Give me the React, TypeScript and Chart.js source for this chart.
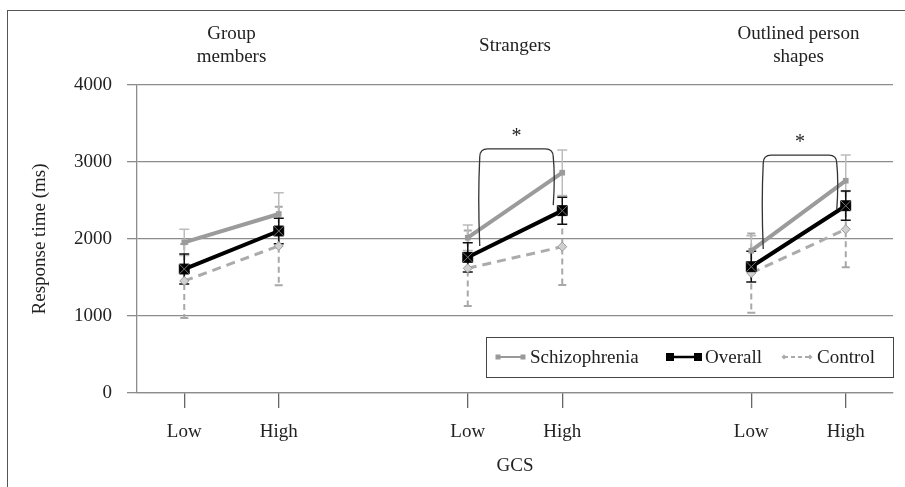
import React, { useEffect, useRef } from 'react';
import { Chart, registerables } from 'chart.js';

Chart.register(...registerables);

const categories = ['Low', 'High', '', 'Low', 'High', '', 'Low', 'High'];
const groupTitles = [['Group', 'members'], ['Strangers'], ['Outlined person', 'shapes']];
const groupStart = [0, 3, 6];

const schizophrenia = [1957, 2325, null, 2017, 2861, null, 1848, 2757];
const schizophreniaErr = [170, 275, null, 165, 295, null, 195, 335];
const overall = [1610, 2104, null, 1762, 2368, null, 1640, 2432];
const overallErr = [195, 165, null, 190, 175, null, 200, 190];
const control = [1455, 1910, null, 1619, 1900, null, 1558, 2126];
const controlErr = [480, 510, null, 490, 497, null, 515, 494];

const yMin = 0;
const yMax = 4000;
const yStep = 1000;

// significance brackets: start category index (Low), end index (High)
const bracketFrom = [3, 6];
const bracketTo = [4, 7];
const bracketTop = [3170, 3090];
const bracketLeftEnd = [1910, 1870];
const bracketRightEnd = [2440, 2380];
const bracketMark = ['*', '*'];

const FONT = "'Liberation Serif', 'Times New Roman', serif";
const FS = 19;
const TEXT = '#222';
const GRID = '#8c8c8c';

const annotations = {
  id: 'annotations',
  beforeDatasetsDraw(chart: any) {
    const { ctx } = chart;
    const xs = chart.scales.x;
    const ys = chart.scales.y;
    const series = [
      { v: control, e: controlErr, color: '#a8a8a8', width: 2, dash: [6, 4], cap: 4 },
      { v: schizophrenia, e: schizophreniaErr, color: '#bcbcbc', width: 1.5, dash: [], cap: 5 },
      { v: overall, e: overallErr, color: '#111', width: 1.5, dash: [], cap: 5 },
    ];
    ctx.save();
    for (const s of series) {
      ctx.strokeStyle = s.color;
      ctx.lineWidth = s.width;
      for (let i = 0; i < s.v.length; i++) {
        const v = s.v[i];
        const e = s.e[i];
        if (v == null || e == null) continue;
        const x = xs.getPixelForValue(i);
        const yt = ys.getPixelForValue(v + e);
        const yb = ys.getPixelForValue(v - e);
        ctx.setLineDash(s.dash);
        ctx.beginPath();
        ctx.moveTo(x, yt);
        ctx.lineTo(x, yb);
        ctx.stroke();
        ctx.setLineDash([]);
        ctx.beginPath();
        ctx.moveTo(x - s.cap, yt);
        ctx.lineTo(x + s.cap, yt);
        ctx.moveTo(x - s.cap, yb);
        ctx.lineTo(x + s.cap, yb);
        ctx.stroke();
      }
    }
    ctx.restore();
  },
  afterDatasetsDraw(chart: any) {
    const { ctx } = chart;
    const meta = chart.getDatasetMeta(1);
    ctx.save();
    ctx.strokeStyle = '#777';
    ctx.lineWidth = 1;
    meta.data.forEach((pt: any, i: number) => {
      if (overall[i] == null) return;
      const r = 5;
      ctx.beginPath();
      ctx.moveTo(pt.x - r, pt.y - r);
      ctx.lineTo(pt.x + r, pt.y + r);
      ctx.moveTo(pt.x + r, pt.y - r);
      ctx.lineTo(pt.x - r, pt.y + r);
      ctx.stroke();
    });
    ctx.restore();
  },
  afterDraw(chart: any) {
    const { ctx, chartArea } = chart;
    const xs = chart.scales.x;
    const ys = chart.scales.y;
    ctx.save();
    // group titles
    ctx.fillStyle = TEXT;
    ctx.font = `${FS}px ${FONT}`;
    ctx.textAlign = 'center';
    ctx.textBaseline = 'middle';
    groupTitles.forEach((lines, g) => {
      const cx = (xs.getPixelForValue(groupStart[g]) + xs.getPixelForValue(groupStart[g] + 1)) / 2;
      if (lines.length === 1) {
        ctx.fillText(lines[0], cx, 46);
      } else {
        lines.forEach((l, k) => ctx.fillText(l, cx, 34 + k * 23));
      }
    });
    // brackets
    ctx.strokeStyle = '#333';
    ctx.lineWidth = 1.3;
    bracketFrom.forEach((from, b) => {
      const lx = xs.getPixelForValue(from) + 12;
      const rx = xs.getPixelForValue(bracketTo[b]) - 9;
      const yt = ys.getPixelForValue(bracketTop[b]);
      const yl = ys.getPixelForValue(bracketLeftEnd[b]);
      const yr = ys.getPixelForValue(bracketRightEnd[b]);
      const r = 8;
      ctx.beginPath();
      ctx.moveTo(lx, yl);
      ctx.quadraticCurveTo(lx - 2, (yl + yt) / 2, lx, yt + r);
      ctx.quadraticCurveTo(lx, yt, lx + r, yt);
      ctx.lineTo(rx - r, yt);
      ctx.quadraticCurveTo(rx, yt, rx, yt + r);
      ctx.quadraticCurveTo(rx + 2, (yr + yt) / 2, rx, yr);
      ctx.stroke();
      ctx.font = `20px ${FONT}`;
      ctx.fillText(bracketMark[b], (lx + rx) / 2, yt - 12);
    });
    // legend
    const boxW = 407;
    const boxH = 40;
    const left = chartArea.right - boxW;
    const top = chartArea.bottom - 56;
    const cy = top + boxH / 2;
    ctx.fillStyle = '#fff';
    ctx.fillRect(left, top, boxW, boxH);
    ctx.strokeStyle = '#444';
    ctx.lineWidth = 1;
    ctx.strokeRect(left + 0.5, top + 0.5, boxW, boxH);
    const items = [
      { label: 'Schizophrenia', x0: 12, x1: 37, color: '#999', width: 2, dash: [], m: 2.5, shape: 'sq', fill: '#999' },
      { label: 'Overall', x0: 184, x1: 212, color: '#000', width: 2.5, dash: [], m: 4, shape: 'sq', fill: '#000' },
      { label: 'Control', x0: 298, x1: 324, color: '#aaa', width: 2, dash: [4, 3], m: 2.5, shape: 'dia', fill: '#aaa' },
    ];
    ctx.font = `${FS}px ${FONT}`;
    ctx.textAlign = 'left';
    items.forEach((it) => {
      ctx.strokeStyle = it.color;
      ctx.lineWidth = it.width;
      ctx.setLineDash(it.dash);
      ctx.beginPath();
      ctx.moveTo(left + it.x0, cy);
      ctx.lineTo(left + it.x1, cy);
      ctx.stroke();
      ctx.setLineDash([]);
      ctx.fillStyle = it.fill;
      [it.x0, it.x1].forEach((xx) => {
        const px = left + xx;
        if (it.shape === 'sq') {
          ctx.fillRect(px - it.m, cy - it.m, it.m * 2, it.m * 2);
        } else {
          ctx.beginPath();
          ctx.moveTo(px, cy - it.m);
          ctx.lineTo(px + it.m, cy);
          ctx.lineTo(px, cy + it.m);
          ctx.lineTo(px - it.m, cy);
          ctx.closePath();
          ctx.fill();
        }
      });
      ctx.fillStyle = TEXT;
      ctx.fillText(it.label, left + it.x1 + 7, cy + 1);
    });
    ctx.restore();
  },
};

export default function App() {
  const ref = useRef<HTMLCanvasElement | null>(null);
  useEffect(() => {
    if (!ref.current) return;
    const chart = new Chart(ref.current, {
      type: 'line',
      data: {
        labels: categories,
        datasets: [
          {
            label: 'Schizophrenia',
            data: schizophrenia,
            borderColor: '#9b9b9b',
            backgroundColor: '#9b9b9b',
            borderWidth: 4,
            pointStyle: 'rect',
            pointRadius: 4,
            pointBorderWidth: 0,
            order: 1,
          },
          {
            label: 'Overall',
            data: overall,
            borderColor: '#000',
            backgroundColor: '#000',
            borderWidth: 4,
            pointStyle: 'rect',
            pointRadius: 7,
            pointBorderWidth: 1,
            order: 0,
          },
          {
            label: 'Control',
            data: control,
            borderColor: '#ababab',
            backgroundColor: '#d0d0d0',
            borderWidth: 3,
            borderDash: [9, 6],
            pointStyle: 'rectRot',
            pointRadius: 4.5,
            pointBorderColor: '#999',
            pointBorderWidth: 1,
            order: 2,
          },
        ] as any,
      },
      options: {
        responsive: false,
        animation: false,
        spanGaps: false,
        layout: { padding: { top: 85, right: 12, left: 0, bottom: 0 } },
        plugins: { legend: { display: false }, tooltip: { enabled: false } },
        scales: {
          x: {
            type: 'category',
            offset: true,
            ticks: { color: TEXT, font: { family: FONT, size: FS }, padding: 13, autoSkip: false, maxRotation: 0 },
            grid: {
              drawOnChartArea: false,
              offset: false,
              tickLength: 15,
              lineWidth: 1.3,
              color: (c: any) => (categories[c.index] ? '#666' : 'rgba(0,0,0,0)'),
            },
            border: { color: GRID, width: 1.3 },
            title: { display: true, text: 'GCS', color: TEXT, font: { family: FONT, size: FS }, padding: { top: 0, bottom: 10 } },
            afterFit: (s: any) => { s.height = 94; },
          },
          y: {
            min: yMin,
            max: yMax,
            ticks: {
              stepSize: yStep,
              color: TEXT,
              font: { family: FONT, size: FS },
              padding: 15,
              callback: (v: any) => String(v),
            },
            grid: { color: GRID, lineWidth: 1.3, tickLength: 10 },
            border: { color: GRID, width: 1.3 },
            title: { display: true, text: 'Response time (ms)', color: TEXT, font: { family: FONT, size: FS }, padding: { top: 29, bottom: 0 } },
            afterFit: (s: any) => { s.width = 137; },
          },
        },
      } as any,
      plugins: [annotations],
    });
    return () => chart.destroy();
  }, []);
  return (
    <div style={{ position: 'absolute', left: 0, top: 0, width: 905, height: 487, overflow: 'hidden', background: '#fff' }}>
      <div style={{ position: 'absolute', left: 7, top: 10, width: 910, height: 500, border: '1px solid #555', boxSizing: 'border-box' }} />
      <canvas ref={ref} width={905} height={487} style={{ position: 'absolute', left: 0, top: 0 }} />
    </div>
  );
}
